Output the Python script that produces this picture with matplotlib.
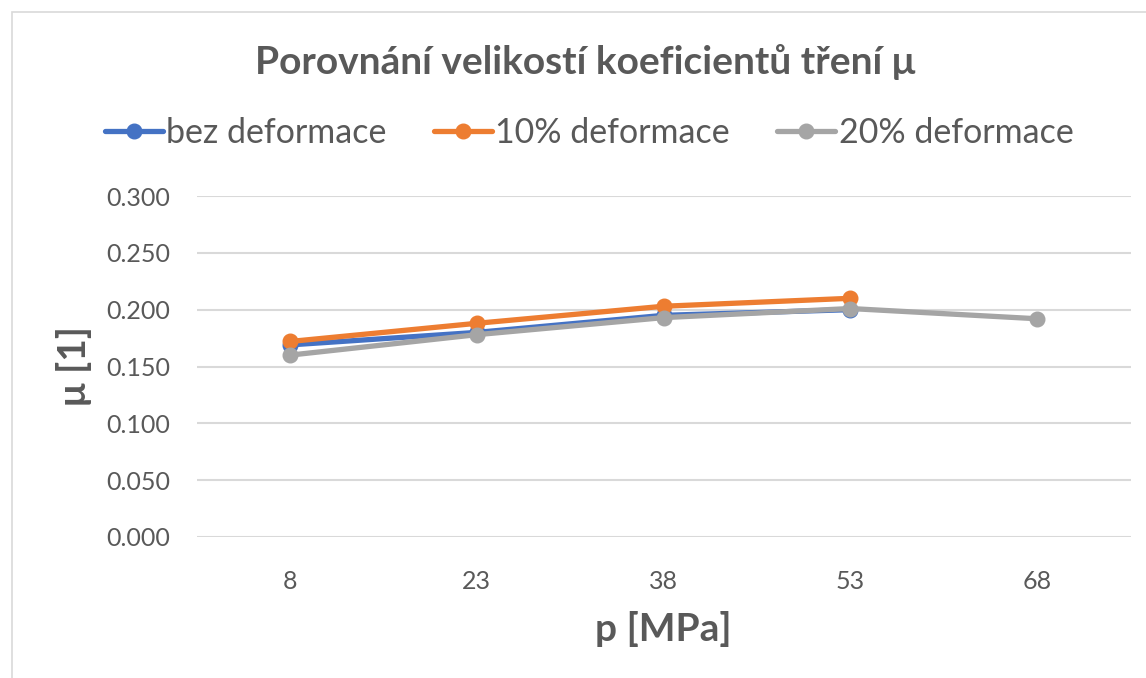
import matplotlib.pyplot as plt
from matplotlib.patches import Rectangle

# data
pressure = ["8", "23", "38", "53", "68"]
bez_def = [0.169, 0.180, 0.195, 0.200]
def_10 = [0.172, 0.188, 0.203, 0.210]
def_20 = [0.160, 0.178, 0.193, 0.201, 0.192]
yticks = [0.0, 0.05, 0.10, 0.15, 0.20, 0.25, 0.30]

plt.rcParams['font.family'] = ['Lato', 'DejaVu Sans']
text_col = "#595959"

fig = plt.figure(figsize=(11.46, 6.78), dpi=100)
fig.patches.append(Rectangle((12/1146, -0.1), 1.2, 1 - 12/678 + 0.1,
                             transform=fig.transFigure, fill=False,
                             edgecolor="#d9d9d9", linewidth=1.2))

ax = fig.add_axes([196.5/1146, 1 - 537/678, 934/1146, 341/678])

x = list(range(len(pressure)))
ax.plot(x[:len(bez_def)], bez_def, color="#4472C4", lw=3.8, marker="o", ms=10.5, label="bez deformace", solid_capstyle="round")
ax.plot(x[:len(def_10)], def_10, color="#ED7D31", lw=3.8, marker="o", ms=10.5, label="10% deformace", solid_capstyle="round")
ax.plot(x, def_20, color="#A5A5A5", lw=3.8, marker="o", ms=10.5, label="20% deformace", solid_capstyle="round")

ax.set_xlim(-0.5, len(pressure) - 0.5)
ax.set_ylim(0, 0.3)
ax.set_xticks(x)
ax.set_xticklabels(pressure)
ax.set_yticks(yticks)
ax.set_yticklabels([f"{v:.3f}" for v in yticks])
ax.tick_params(length=0, labelsize=18, labelcolor=text_col)
ax.tick_params(axis="x", pad=24)
ax.tick_params(axis="y", pad=19)
ax.grid(axis="y", color="#d9d9d9", lw=1.5)
ax.set_axisbelow(True)
for s in ax.spines.values():
    s.set_visible(False)

ax.set_xlabel("p [MPa]", fontsize=28, fontweight="bold", color=text_col, labelpad=13)
ax.set_ylabel("μ [1]", fontsize=28, fontweight="bold", color=text_col, labelpad=10)

fig.text(0.511, 1 - 62/678, "Porovnání velikostí koeficientů tření μ", ha="center", va="center",
         fontsize=28, fontweight="bold", color=text_col)

fig.legend(loc="center", bbox_to_anchor=(0.514, 1 - 133/678), ncol=3, frameon=False,
           fontsize=24.5, labelcolor=text_col, handlelength=1.7, handletextpad=0.1, columnspacing=1.4)

fig.savefig("out.png", dpi=100)
